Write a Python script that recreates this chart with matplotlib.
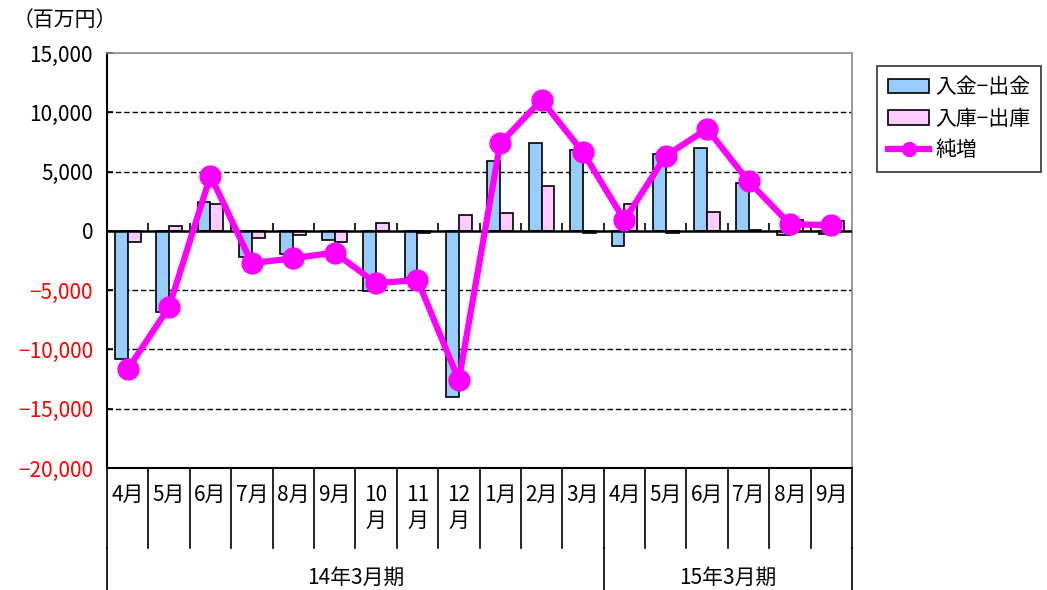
import matplotlib
matplotlib.use("Agg")
import matplotlib.pyplot as plt
import numpy as np
from matplotlib.lines import Line2D
from matplotlib.patches import Patch
import matplotlib.transforms as mtransforms

plt.rcParams['font.family'] = ['Noto Sans CJK JP', 'DejaVu Sans']

# data (百万円)
months = ["4月", "5月", "6月", "7月", "8月", "9月", "10\n月", "11\n月", "12\n月",
          "1月", "2月", "3月", "4月", "5月", "6月", "7月", "8月", "9月"]
periods = ["14年3月期", "15年3月期"]
period_sizes = [12, 6]
cash = [-10790, -6845, 2395, -2170, -1970, -790, -5040, -3940, -14000,
        5860, 7380, 6820, -1270, 6510, 6960, 4070, -340, -300]
stock = [-900, 420, 2250, -620, -340, -930, 620, -200, 1350,
         1490, 3775, -200, 2250, -170, 1630, 100, 900, 800]
net = [-11690, -6420, 4650, -2730, -2310, -1830, -4420, -4140, -12590,
       7380, 11040, 6620, 900, 6340, 8590, 4170, 560, 480]

FS = 15

fig = plt.figure(figsize=(10.47, 5.90), dpi=100)
ax = fig.add_axes([0.1022, 0.2068, 0.7116, 0.7034])

x = np.arange(len(months))
w = 0.31
ax.bar(x - w / 2, cash, w, color="#99CCFF", edgecolor="black", linewidth=1.2, zorder=3)
ax.bar(x + w / 2, stock, w, color="#FFCCFF", edgecolor="black", linewidth=1.2, zorder=3)
ax.plot(x, net, color="#FF00FF", linewidth=4.5, marker="o", markersize=15, zorder=5)

ax.set_xlim(-0.5, len(months) - 0.5)
ax.set_ylim(-20000, 15000)
yt = np.arange(-20000, 15001, 5000)
ax.set_yticks(yt)
ax.set_yticklabels([f"{v:,}".replace("-", "\u2212") for v in yt], fontsize=FS)
for lab, v in zip(ax.get_yticklabels(), yt):
    lab.set_color("red" if v < 0 else "black")
ax.tick_params(axis="y", direction="in", length=4, width=1.2, pad=10)
ax.set_xticks([])

for v in yt[1:-1]:
    if v != 0:
        ax.axhline(v, color="black", linestyle=(0, (4, 2)), linewidth=1.0, zorder=1)
ax.axhline(0, color="black", linewidth=1.8, zorder=4)
bounds = np.arange(len(months) + 1) - 0.5
ax.vlines(bounds[1:-1], 0, 700, color="black", linewidth=1.2, zorder=4)

ax.spines["left"].set_linewidth(1.5)
ax.spines["bottom"].set_linewidth(1.5)
for s in ["top", "right"]:
    ax.spines[s].set_color("#888888")
    ax.spines[s].set_linestyle((0, (2, 1)))
    ax.spines[s].set_linewidth(1.2)

# category axis below
trans = mtransforms.blended_transform_factory(ax.transData, ax.transAxes)
for i, m in enumerate(months):
    ax.text(i, -0.038, m, transform=trans, ha="center", va="top",
            fontsize=FS, linespacing=1.25)
for b in bounds:
    ax.add_line(Line2D([b, b], [0, -0.193], transform=trans, color="black",
                       linewidth=1.2, clip_on=False))
edges = np.concatenate([[0], np.cumsum(period_sizes)]) - 0.5
for e in edges:
    ax.add_line(Line2D([e, e], [-0.193, -0.3], transform=trans, color="black",
                       linewidth=1.2, clip_on=False))
for p, a, b in zip(periods, edges[:-1], edges[1:]):
    ax.text((a + b) / 2, -0.265, p, transform=trans, ha="center", va="center",
            fontsize=FS)

fig.text(0.012, 0.966, "（百万円）", fontsize=FS, ha="left", va="center")

handles = [Patch(facecolor="#99CCFF", edgecolor="black", linewidth=1.2),
           Patch(facecolor="#FFCCFF", edgecolor="black", linewidth=1.2),
           Line2D([], [], color="#FF00FF", linewidth=4.5, marker="o", markersize=10)]
leg = fig.legend(handles, ["入金−出金", "入庫−出庫", "純増"], loc="upper left",
                 bbox_to_anchor=(0.838, 0.888), fontsize=FS, frameon=True,
                 fancybox=False, edgecolor="black", handlelength=2.0,
                 borderpad=0.5, labelspacing=0.45, handletextpad=0.3,
                 borderaxespad=0)
leg.get_frame().set_linewidth(1.2)

fig.savefig("out.png", dpi=100)
